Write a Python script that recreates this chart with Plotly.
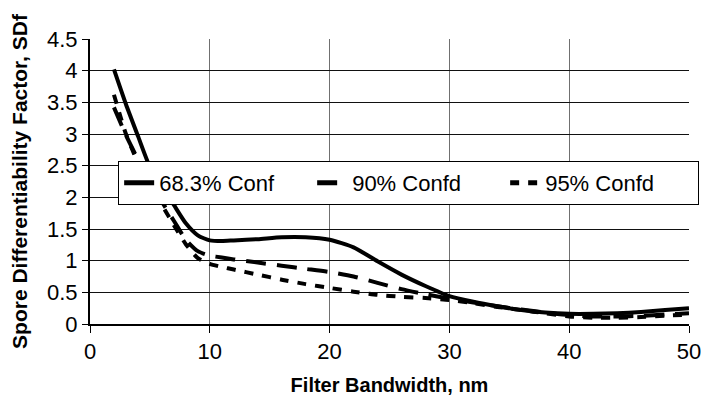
import plotly.graph_objects as go

bandwidth = [2, 3, 4, 5, 6, 7, 8, 9, 10, 11, 12, 14, 16, 18, 20, 22, 24, 26, 28, 30,
             32, 34, 36, 38, 40, 42, 44, 46, 48, 50]
conf_683 = [4.02, 3.47, 2.97, 2.48, 2.18, 1.88, 1.59, 1.40, 1.32, 1.31, 1.32, 1.34, 1.37, 1.37, 1.33,
            1.21, 0.99, 0.78, 0.60, 0.44, 0.35, 0.28, 0.22, 0.18, 0.16, 0.16, 0.17, 0.19, 0.22, 0.25]
conf_90 = [3.42, 2.98, 2.60, 2.25, 1.93, 1.63, 1.33, 1.15, 1.08, 1.05, 1.02, 0.97, 0.92, 0.87, 0.82,
           0.75, 0.65, 0.55, 0.47, 0.40, 0.34, 0.28, 0.23, 0.18, 0.14, 0.12, 0.12, 0.13, 0.15, 0.17]
conf_95 = [3.62, 3.00, 2.55, 2.20, 1.88, 1.56, 1.26, 1.04, 0.95, 0.90, 0.86, 0.78, 0.70, 0.63, 0.57,
           0.51, 0.46, 0.43, 0.41, 0.38, 0.33, 0.27, 0.22, 0.17, 0.12, 0.10, 0.10, 0.11, 0.13, 0.15]

series_names = ["68.3% Conf", "90% Confd", "95% Confd"]
x_ticks = [0, 10, 20, 30, 40, 50]
y_ticks = [0, 0.5, 1, 1.5, 2, 2.5, 3, 3.5, 4, 4.5]

FONT = "Liberation Sans, Arial, sans-serif"

fig = go.Figure()
fig.add_trace(go.Scatter(x=bandwidth, y=conf_683, name=series_names[0], mode="lines",
                         line=dict(color="black", width=4, shape="spline", smoothing=0.6)))
fig.add_trace(go.Scatter(x=bandwidth, y=conf_90, name=series_names[1], mode="lines",
                         line=dict(color="black", width=4, shape="spline", smoothing=0.6,
                                   dash="20px,11px")))
fig.add_trace(go.Scatter(x=bandwidth, y=conf_95, name=series_names[2], mode="lines",
                         line=dict(color="black", width=4, shape="spline", smoothing=0.6,
                                   dash="9px,9px")))

fig.update_layout(
    width=716, height=402,
    margin=dict(l=90, r=27, t=39, b=78, autoexpand=False),
    paper_bgcolor="white", plot_bgcolor="white",
    font=dict(family=FONT, size=22, color="black"),
    showlegend=True,
    legend=dict(orientation="h", x=0.047, y=0.572, xanchor="left", yanchor="top",
                bgcolor="white", bordercolor="black", borderwidth=1,
                font=dict(size=22), entrywidth=148, entrywidthmode="pixels",
                itemsizing="constant", tracegroupgap=0),
)
fig.update_xaxes(
    range=[0, 50], tickvals=x_ticks, ticks="outside", ticklen=7, tickcolor="black",
    showline=True, linecolor="black", linewidth=2, mirror=False,
    showgrid=True, gridcolor="#707070", gridwidth=1, zeroline=False,
    title=dict(text="<b>Filter Bandwidth, nm</b>", font=dict(size=20), standoff=15),
    tickfont=dict(size=22),
)
fig.update_yaxes(
    range=[0, 4.5], tickvals=y_ticks, ticktext=[f"{v:g}" for v in y_ticks],
    ticks="outside", ticklen=6, tickcolor="black",
    showline=True, linecolor="black", linewidth=2, mirror=False,
    showgrid=True, gridcolor="#111111", gridwidth=1, zeroline=False,
    title=dict(text="<b>Spore Differentiability Factor, SDf</b>", font=dict(size=21), standoff=14),
    tickfont=dict(size=22),
)

fig.write_html("out.html")
